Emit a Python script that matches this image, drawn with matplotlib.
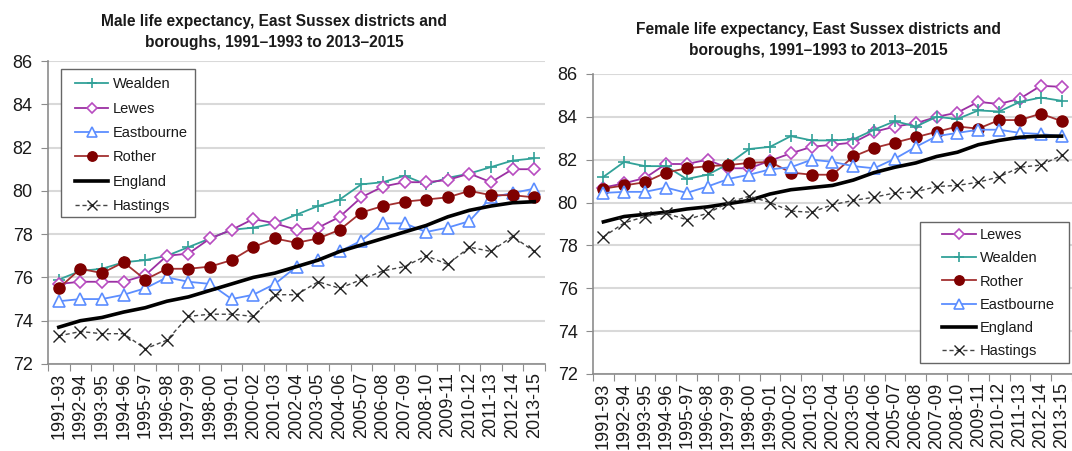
import matplotlib
matplotlib.use("Agg")
import matplotlib.pyplot as plt
from matplotlib.patches import Rectangle
import numpy as np

plt.rcParams['font.family'] = ['Liberation Sans', 'DejaVu Sans']

periods = ["1991-93", "1992-94", "1993-95", "1994-96", "1995-97", "1996-98",
           "1997-99", "1998-00", "1999-01", "2000-02", "2001-03", "2002-04",
           "2003-05", "2004-06", "2005-07", "2006-08", "2007-09", "2008-10",
           "2009-11", "2010-12", "2011-13", "2012-14", "2013-15"]

# Male life expectancy
male_wealden = [75.9, 76.3, 76.4, 76.7, 76.8, 77.0, 77.4, 77.8, 78.2, 78.3, 78.5,
                78.9, 79.3, 79.6, 80.3, 80.4, 80.7, 80.3, 80.6, 80.8, 81.1, 81.4, 81.5]
male_lewes = [75.7, 75.8, 75.8, 75.8, 76.1, 77.0, 77.1, 77.8, 78.2, 78.7, 78.5,
              78.2, 78.3, 78.8, 79.7, 80.2, 80.4, 80.4, 80.5, 80.8, 80.4, 81.0, 81.0]
male_eastbourne = [74.9, 75.0, 75.0, 75.2, 75.5, 76.0, 75.8, 75.7, 75.0, 75.2, 75.7,
                   76.5, 76.8, 77.2, 77.7, 78.5, 78.5, 78.1, 78.3, 78.6, 79.7, 79.9, 80.1]
male_rother = [75.5, 76.4, 76.2, 76.7, 75.9, 76.4, 76.4, 76.5, 76.8, 77.4, 77.8,
               77.6, 77.8, 78.2, 79.0, 79.3, 79.5, 79.6, 79.7, 80.0, 79.8, 79.8, 79.7]
male_england = [73.7, 74.0, 74.15, 74.4, 74.6, 74.9, 75.1, 75.4, 75.7, 76.0, 76.2,
                76.5, 76.8, 77.2, 77.5, 77.8, 78.1, 78.4, 78.8, 79.1, 79.3, 79.45, 79.5]
male_hastings = [73.3, 73.5, 73.4, 73.4, 72.7, 73.1, 74.2, 74.3, 74.3, 74.2, 75.2,
                 75.2, 75.8, 75.5, 75.9, 76.3, 76.5, 77.0, 76.6, 77.4, 77.2, 77.9, 77.2]

# Female life expectancy
female_lewes = [80.7, 80.9, 81.15, 81.8, 81.8, 82.0, 81.6, 81.6, 81.95, 82.3, 82.6,
                82.7, 82.8, 83.3, 83.55, 83.7, 84.0, 84.2, 84.7, 84.6, 84.85, 85.45, 85.4]
female_wealden = [81.2, 81.9, 81.7, 81.7, 81.1, 81.3, 81.8, 82.5, 82.6, 83.1, 82.9,
                  82.9, 82.95, 83.4, 83.8, 83.55, 84.0, 83.9, 84.3, 84.25, 84.7, 84.9, 84.75]
female_rother = [80.65, 80.8, 80.95, 81.4, 81.6, 81.7, 81.75, 81.85, 81.9, 81.4, 81.3,
                 81.3, 82.15, 82.55, 82.8, 83.05, 83.3, 83.55, 83.45, 83.85, 83.85, 84.15, 83.8]
female_eastbourne = [80.45, 80.5, 80.5, 80.7, 80.45, 80.75, 81.1, 81.3, 81.55, 81.65, 82.0,
                     81.9, 81.7, 81.6, 82.05, 82.6, 83.1, 83.25, 83.4, 83.4, 83.25, 83.2, 83.1]
female_england = [79.1, 79.35, 79.45, 79.55, 79.7, 79.8, 79.95, 80.1, 80.4, 80.6, 80.7,
                  80.8, 81.05, 81.4, 81.65, 81.85, 82.15, 82.35, 82.7, 82.9, 83.05, 83.1, 83.1]
female_hastings = [78.4, 79.05, 79.35, 79.5, 79.2, 79.5, 80.0, 80.3, 80.0, 79.6, 79.55,
                   79.9, 80.1, 80.25, 80.45, 80.5, 80.75, 80.8, 80.95, 81.2, 81.65, 81.75, 82.2]

styles = {
    "Wealden": dict(color='#31A198', marker='+', markersize=9, markeredgewidth=1.2, lw=1.3),
    "Lewes": dict(color='#9B30A3', marker='D', markersize=6, markerfacecolor='white',
                  markeredgecolor='#B84CC0', markeredgewidth=1.2, lw=1.3),
    "Eastbourne": dict(color='#5C8EFF', marker='^', markersize=8.5, markerfacecolor='white',
                       markeredgecolor='#5C8EFF', markeredgewidth=1.2, lw=1.3),
    "Rother": dict(color='#A33030', marker='o', markersize=8, markerfacecolor='#7F0000',
                   markeredgecolor='#7F0000', lw=1.3),
    "England": dict(color='black', lw=2.6),
    "Hastings": dict(color='#444444', ls=(0, (3, 2)), lw=1.0, marker='x', markersize=9,
                     markeredgecolor='#222222', markeredgewidth=1.0),
}

W, H = 1072, 451
fig = plt.figure(figsize=(W/100, H/100), dpi=100)
axL = fig.add_axes([48/W, 1-364/H, (545-48)/W, (364-61)/H])
axR = fig.add_axes([593/W, 1-374/H, (1072-593)/W, (374-74)/H])

x = np.arange(len(periods))

def style_axes(ax):
    ax.set_xlim(-0.5, len(periods)-0.5)
    ax.set_ylim(72, 86)
    ax.set_yticks(np.arange(72, 87, 2))
    ax.grid(axis='y', color='#D9D9D9', lw=1.5)
    ax.set_axisbelow(True)
    for s in ['top', 'right']:
        ax.spines[s].set_visible(False)
    for s in ['left', 'bottom']:
        ax.spines[s].set_color('#8C8C8C')
        ax.spines[s].set_linewidth(1.2)
    ax.set_xticks(np.arange(-0.5, len(periods), 1.0))
    ax.set_xticklabels([])
    ax.set_xticks(x, minor=True)
    ax.set_xticklabels(periods, minor=True, rotation=90, fontsize=13, color='#1A1A1A')
    ax.tick_params(axis='x', which='major', length=5, color='#8C8C8C', direction='out')
    ax.tick_params(axis='x', which='minor', length=0, pad=6)
    ax.tick_params(axis='y', length=5, color='#8C8C8C', labelsize=13, labelcolor='#1A1A1A', pad=6)

male = {"Wealden": male_wealden, "Lewes": male_lewes, "Eastbourne": male_eastbourne,
        "Rother": male_rother, "England": male_england, "Hastings": male_hastings}
female = {"Lewes": female_lewes, "Wealden": female_wealden, "Rother": female_rother,
          "Eastbourne": female_eastbourne, "England": female_england, "Hastings": female_hastings}

for name, vals in male.items():
    axL.plot(x, vals, label=name, **styles[name])
for name, vals in female.items():
    axR.plot(x, vals, label=name, **styles[name])

style_axes(axL)
style_axes(axR)

def place_legend(ax, box, handle_x, first_row_y, row_gap, handle_len_px, text_gap_px):
    fs = 10.5
    fpx = fs * 100 / 72
    x0, y0, x1, y1 = box
    rect = Rectangle((x0/W, 1-y1/H), (x1-x0)/W, (y1-y0)/H,
                     transform=fig.transFigure, fill=True, facecolor='white',
                     edgecolor='#666666', lw=1.0, zorder=4, clip_on=False)
    ax.add_artist(rect)
    leg = ax.legend(loc='upper left', bbox_to_anchor=(handle_x/W, 1-(first_row_y-5)/H),
                    bbox_transform=fig.transFigure, frameon=False, fontsize=fs,
                    borderaxespad=0, borderpad=0, markerscale=0.85,
                    handlelength=handle_len_px/fpx, handletextpad=text_gap_px/fpx,
                    labelspacing=(row_gap-14.2)/fpx)
    leg.set_zorder(6)
    for t in leg.get_texts():
        t.set_color('#1A1A1A')
    return leg

place_legend(axL, (61, 69, 195, 217), 75, 82.5, 24.5, 33, 5)
place_legend(axR, (920, 222, 1069, 363), 942, 233, 23.5, 34, 4)

fig.text(274/W, 1-32/H, "Male life expectancy, East Sussex districts and\nboroughs, 1991\u20131993 to 2013\u20132015",
         ha='center', va='center', fontsize=11.2, fontweight='bold', linespacing=1.45, color='#1A1A1A')
fig.text(818/W, 1-40/H, "Female life expectancy, East Sussex districts and\nboroughs, 1991\u20131993 to 2013\u20132015",
         ha='center', va='center', fontsize=11.2, fontweight='bold', linespacing=1.45, color='#1A1A1A')

fig.savefig("out.png", dpi=100)
